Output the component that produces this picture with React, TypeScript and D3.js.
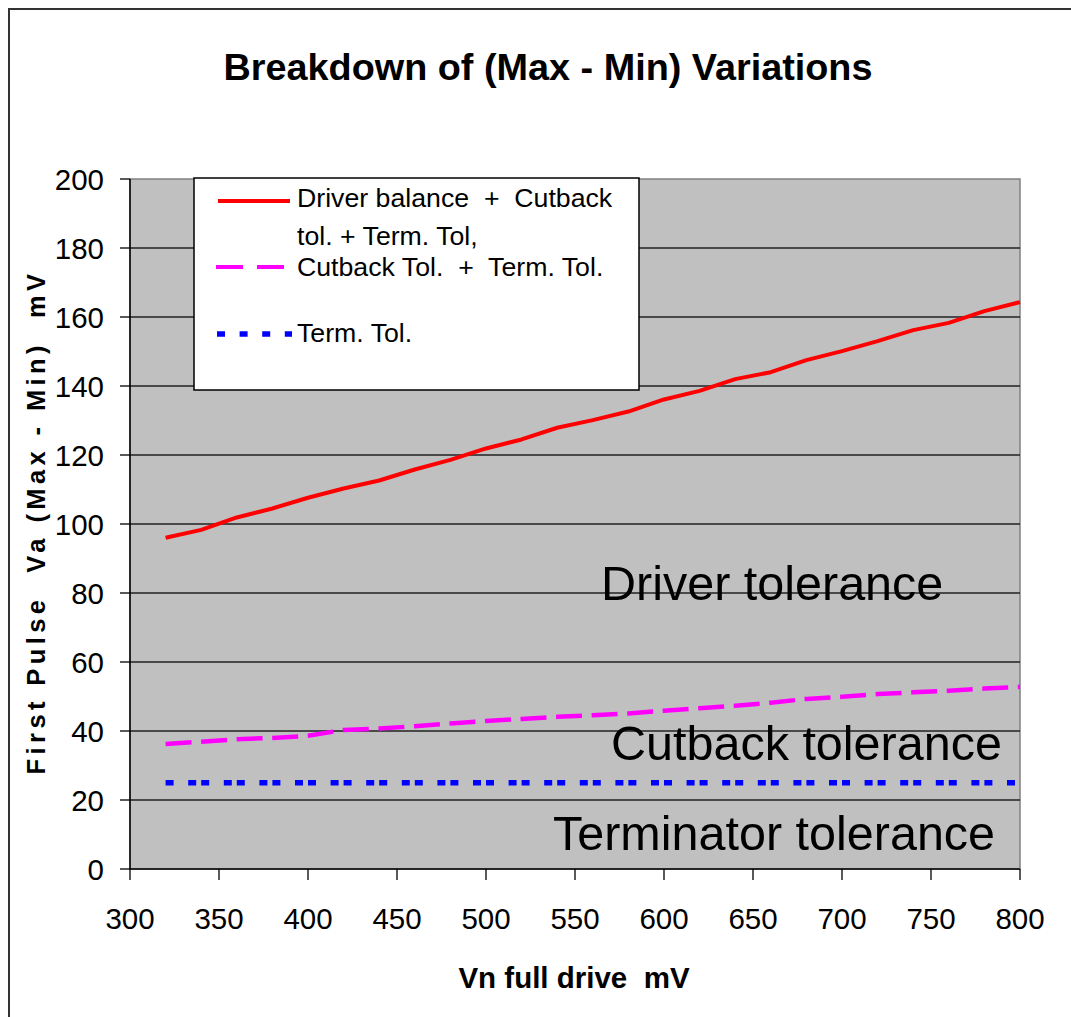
import React from 'react';
import * as d3 from 'd3';

// Vn full drive (mV)
const vn = [320, 340, 360, 380, 400, 420, 440, 460, 480, 500, 520, 540, 560, 580, 600, 620, 640, 660, 680, 700, 720, 740, 760, 780, 800];

// Driver balance + Cutback tol. + Term. Tol.
const totalTol = [96.0, 98.3, 101.9, 104.5, 107.6, 110.3, 112.6, 115.8, 118.6, 121.9, 124.5, 127.9, 130.1, 132.6, 136.1, 138.6, 142.0, 144.0, 147.5, 150.1, 153.0, 156.2, 158.3, 161.7, 164.3];

// Cutback Tol. + Term. Tol.
const cutbackTol = [36.2, 36.9, 37.6, 38.0, 38.6, 40.3, 40.7, 41.4, 42.2, 42.9, 43.5, 44.1, 44.6, 45.1, 45.9, 46.6, 47.3, 48.2, 49.3, 49.9, 50.7, 51.2, 51.7, 52.3, 52.8];

// Term. Tol.
const termTol = [25, 25, 25, 25, 25, 25, 25, 25, 25, 25, 25, 25, 25, 25, 25, 25, 25, 25, 25, 25, 25, 25, 25, 25, 25];

const xTicks = [300, 350, 400, 450, 500, 550, 600, 650, 700, 750, 800];
const yTicks = [0, 20, 40, 60, 80, 100, 120, 140, 160, 180, 200];

const FONT = '"Liberation Sans", Arial, sans-serif';

export default function App() {
  const width = 1071;
  const height = 1017;
  const plot = { left: 130, right: 1020, top: 179, bottom: 869 };

  const x = d3.scaleLinear().domain([300, 800]).range([plot.left, plot.right]);
  const y = d3.scaleLinear().domain([0, 200]).range([plot.bottom, plot.top]);

  const line = (vals: number[]) =>
    d3.line<number>()
      .x((_, i) => x(vn[i]))
      .y(d => y(d))(vals) || '';

  return (
    <svg
      width={width}
      height={height}
      style={{ position: 'absolute', left: 0, top: 0, fontFamily: FONT }}
    >
      <rect x={0} y={0} width={width} height={height} fill="#fff" />
      {/* outer chart frame */}
      <rect x={9} y={9} width={1200} height={1200} fill="none" stroke="#333" strokeWidth={2} />

      {/* title */}
      <text x={548} y={80} textAnchor="middle" fontSize={37.8} fontWeight="bold">
        Breakdown of (Max - Min) Variations
      </text>

      {/* plot area */}
      <rect
        x={plot.left}
        y={plot.top}
        width={plot.right - plot.left}
        height={plot.bottom - plot.top}
        fill="#c0c0c0"
        stroke="#808080"
        strokeWidth={1.5}
      />

      {/* gridlines */}
      {yTicks.slice(1, -1).map(t => (
        <line key={t} x1={plot.left} x2={plot.right} y1={y(t)} y2={y(t)} stroke="#222" strokeWidth={1.3} />
      ))}

      {/* axes */}
      <line x1={plot.left} x2={plot.left} y1={plot.top} y2={plot.bottom} stroke="#000" strokeWidth={1.5} />
      <line x1={plot.left} x2={plot.right} y1={plot.bottom} y2={plot.bottom} stroke="#000" strokeWidth={1.5} />

      {yTicks.map(t => (
        <g key={t}>
          <line x1={plot.left - 10} x2={plot.left} y1={y(t)} y2={y(t)} stroke="#000" strokeWidth={1.3} />
          <text x={104} y={y(t)} dy="0.36em" textAnchor="end" fontSize={29.5}>
            {t}
          </text>
        </g>
      ))}
      {xTicks.map(t => (
        <g key={t}>
          <line x1={x(t)} x2={x(t)} y1={plot.bottom} y2={plot.bottom + 11} stroke="#000" strokeWidth={1.3} />
          <text x={x(t)} y={929} textAnchor="middle" fontSize={29.5}>
            {t}
          </text>
        </g>
      ))}

      {/* axis titles */}
      <text x={574} y={988} textAnchor="middle" fontSize={29.5} fontWeight="bold" style={{ whiteSpace: 'pre' }}>
        {'Vn full drive  mV'}
      </text>
      <text
        transform="translate(45,522) rotate(-90)"
        textAnchor="middle"
        fontSize={25.5}
        fontWeight="bold"
        letterSpacing={4.4}
        style={{ whiteSpace: 'pre' }}
      >
        {'First Pulse  Va (Max - Min)  mV'}
      </text>

      {/* region annotations */}
      <text x={601} y={600} fontSize={48.5}>Driver tolerance</text>
      <text x={611} y={760} fontSize={48.5}>Cutback tolerance</text>
      <text x={553} y={850} fontSize={48.5}>Terminator tolerance</text>

      {/* series */}
      <path d={line(termTol)} fill="none" stroke="#0000ff" strokeWidth={5.5} strokeDasharray="8,14.6,8,5" />
      <path d={line(cutbackTol)} fill="none" stroke="#ff00ff" strokeWidth={4.5} strokeDasharray="26,9.6" />
      <path d={line(totalTol)} fill="none" stroke="#ff0000" strokeWidth={4} strokeLinejoin="round" />

      {/* legend */}
      <rect x={194} y={178} width={445} height={212} fill="#fff" stroke="#000" strokeWidth={1.5} />
      <line x1={218} x2={290} y1={201} y2={201} stroke="#ff0000" strokeWidth={4} />
      <text x={297} y={207} fontSize={26.7} style={{ whiteSpace: 'pre' }}>{'Driver balance  +  Cutback'}</text>
      <text x={297} y={245} fontSize={26.7}>tol. + Term. Tol,</text>
      <line x1={216} x2={285} y1={267} y2={267} stroke="#ff00ff" strokeWidth={4} strokeDasharray="27,14" />
      <text x={297} y={276} fontSize={26.7} style={{ whiteSpace: 'pre' }}>{'Cutback Tol.  +  Term. Tol.'}</text>
      <line x1={217} x2={292} y1={334} y2={334} stroke="#0000ff" strokeWidth={5.5} strokeDasharray="8,14.6" />
      <text x={297} y={342} fontSize={26.7}>Term. Tol.</text>
    </svg>
  );
}
